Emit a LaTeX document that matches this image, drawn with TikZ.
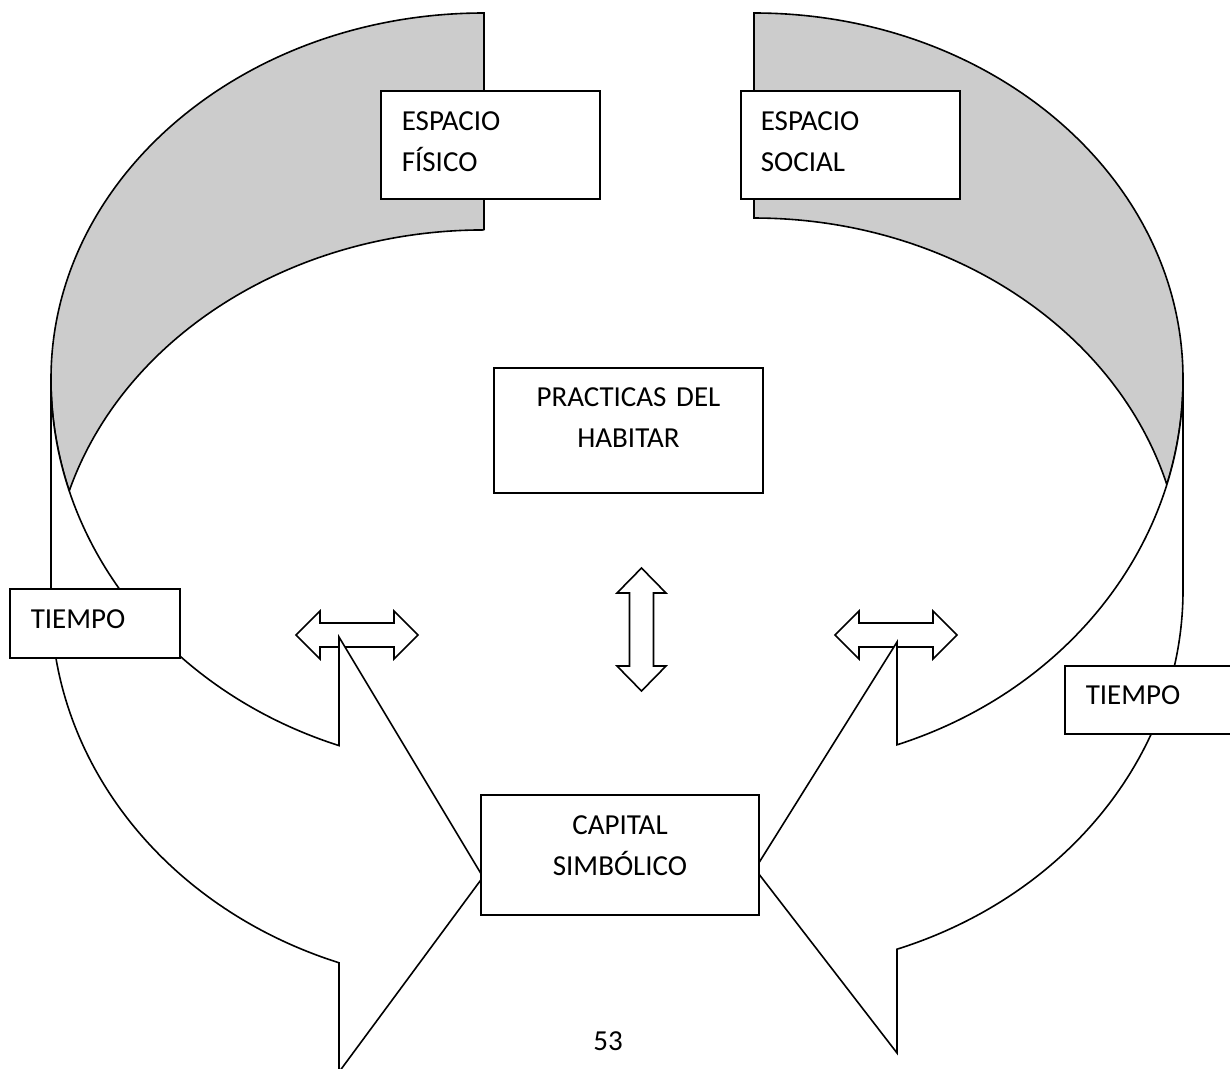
\documentclass[tikz,border=0pt]{standalone}
\usepackage{fontspec}
\setmainfont{Carlito}
\definecolor{backgray}{RGB}{204,204,204}
\newcommand{\boxfont}{\fontsize{29pt}{41.5pt}\selectfont}
\begin{document}
\begin{tikzpicture}[x=1pt,y=-1pt,
  shp/.style={draw,line width=1.6pt,line join=miter},
  box/.style={draw,fill=white,line width=1.6pt,inner ysep=0pt,font=\boxfont},
  lbox/.style={box,align=left,anchor=base west},
  cbox/.style={box,align=center,anchor=base}]
  \useasboundingbox (0,0) rectangle (1230,1068);
  \clip (0,0) rectangle (1230,1068);
  % back of the curved arrows
  \draw[shp,fill=backgray] (484,230) -- (484,13)
    arc[start angle=90,end angle=180,x radius=433pt,y radius=366pt]
    arc[start angle=180,end angle=196.7,x radius=433pt,y radius=389pt]
    arc[start angle=163.3,end angle=90,x radius=433pt,y radius=366pt] -- cycle;
  \draw[shp,fill=backgray] (754,218) -- (754,13)
    arc[start angle=90,end angle=0,x radius=429pt,y radius=366pt]
    arc[start angle=0,end angle=-15.78,x radius=429pt,y radius=388pt]
    arc[start angle=15.78,end angle=90,x radius=429pt,y radius=366pt] -- cycle;
  % double arrows
  \foreach \dx in {296,835}
    \draw[shp,fill=white,shift={(\dx,635)}] (0,0) -- (24,-24) -- (24,-12) -- (98,-12)
      -- (98,-24) -- (122,0) -- (98,24) -- (98,12) -- (24,12) -- (24,24) -- cycle;
  \draw[shp,fill=white] (641.5,568) -- (666,593) -- (653.5,593) -- (653.5,666) -- (666,666)
    -- (641.5,691) -- (617,666) -- (629.5,666) -- (629.5,593) -- (617,593) -- cycle;
  % front of the curved arrows
  \draw[shp,fill=white] (51,379) -- (51,600)
    arc[start angle=180,end angle=250.44,x radius=433pt,y radius=385pt]
    -- (339,1072) -- (483,877) -- (339,637) -- (339,745.6)
    arc[start angle=250.44,end angle=180,x radius=433pt,y radius=389pt] -- cycle;
  \draw[shp,fill=white] (1183,379) -- (1183,590)
    arc[start angle=0,end angle=-70.53,x radius=429pt,y radius=381pt]
    -- (897,1053) -- (755,869) -- (897,642) -- (897,744.8)
    arc[start angle=-70.53,end angle=0,x radius=429pt,y radius=388pt] -- cycle;
  % boxes
  \node[lbox,inner xsep=21pt,text width=177pt,text height=39pt,text depth=69pt] (fisico) at (380,130) {ESPACIO\\FÍSICO};
  \node[lbox,inner xsep=20pt,text width=179pt,text height=39pt,text depth=69pt] (social) at (740,130) {ESPACIO\\SOCIAL};
  \node[cbox,inner xsep=10pt,text width=249pt,text height=38pt,text depth=87pt] (practicas) at (628.5,406) {PRACTICAS DEL\\HABITAR};
  \node[lbox,inner xsep=21pt,text width=128pt,text height=39pt,text depth=30pt] (tiempoL) at (9,628) {TIEMPO};
  \node[lbox,inner xsep=21pt,text width=134pt,text height=38pt,text depth=30pt] (tiempoR) at (1064,704) {TIEMPO};
  \node[cbox,inner xsep=10pt,text width=258pt,text height=39pt,text depth=81pt] (capital) at (620,834) {CAPITAL\\SIMBÓLICO};
  \node[font=\boxfont,anchor=base,inner sep=0pt] (pagina) at (608,1050) {53};
\end{tikzpicture}
\end{document}
